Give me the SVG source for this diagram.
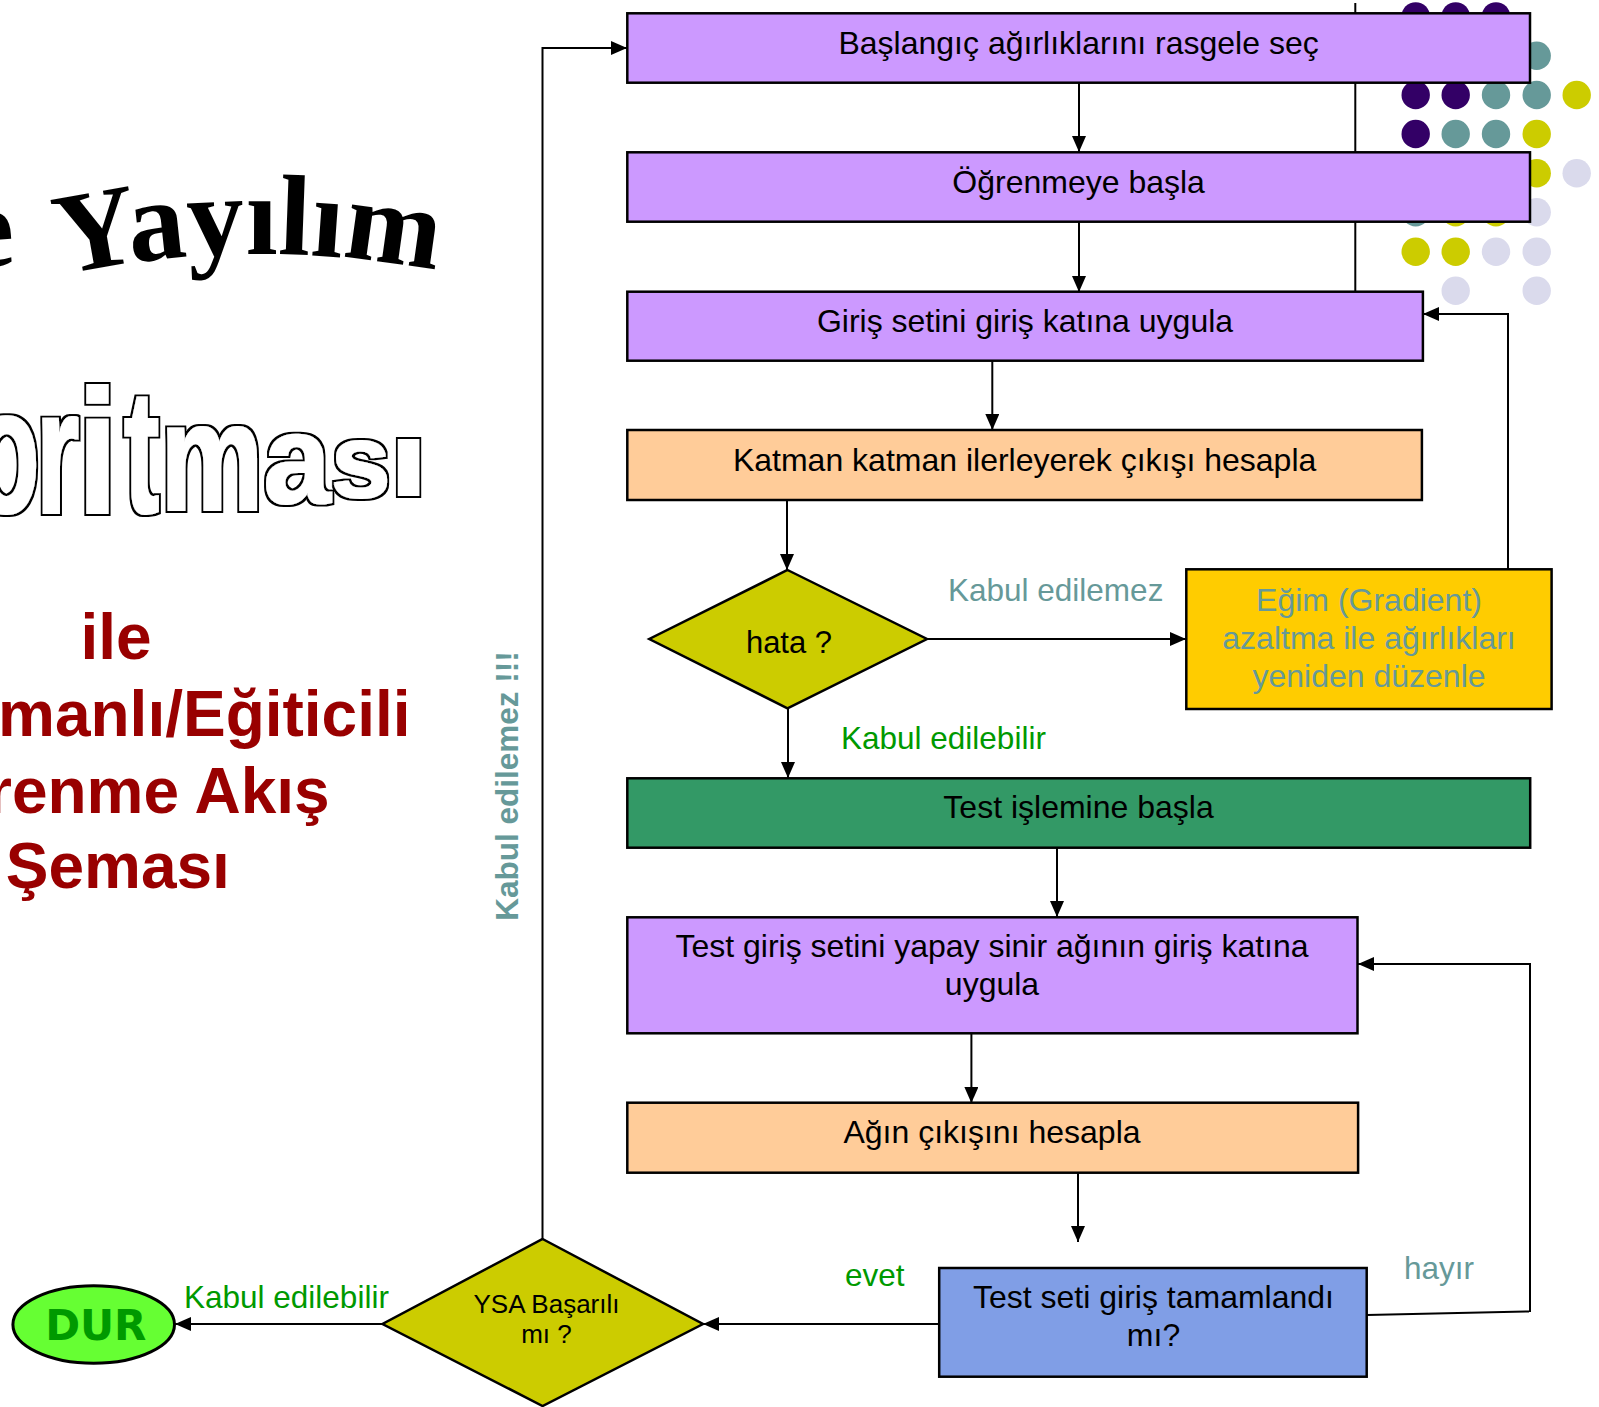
<svg xmlns="http://www.w3.org/2000/svg" width="1599" height="1407" viewBox="0 0 1599 1407">
  <defs>
    <style>
      .box{stroke:#000;stroke-width:2.5}
      .purple{fill:#CC99FF}
      .peach{fill:#FFCC99}
      .gold{fill:#FFCC00}
      .green{fill:#339966}
      .blue{fill:#809EE6}
      .olive{fill:#CCCC00}
      .t{font-family:"Liberation Sans",Arial,sans-serif;font-size:32px;fill:#000;text-anchor:middle}
      .lbl{font-family:"Liberation Sans",Arial,sans-serif;font-size:31.5px}
      .okc{fill:#009900}
      .tealc{fill:#669999}
      .conn{fill:none;stroke:#000;stroke-width:2}
      .arr{marker-end:url(#ah)}
      .red{font-family:"Liberation Sans",Arial,sans-serif;font-weight:bold;font-size:64px;fill:#990000}
      .ol{font-family:"Liberation Sans",Arial,sans-serif;font-weight:bold;fill:#000}
      .serif{font-family:"Liberation Serif","Times New Roman",serif;font-weight:bold;font-size:115px;fill:#000}
      .d1{fill:#330066}.d2{fill:#669999}.d3{fill:#CCCC00}.d4{fill:#DADAEC}
    </style>
    <marker id="ah" markerUnits="userSpaceOnUse" markerWidth="16" markerHeight="14" refX="16" refY="7" orient="auto">
      <path d="M0,0 L16,7 L0,14 z" fill="#000"/>
    </marker>
    <path id="arc" d="M -100 326.2 A 933 933 0 0 1 620 326.2" fill="none"/>
    <!-- hollow lettering: white body with a thin black rim, slightly fattened -->
    <filter id="hollow" x="-5%" y="-10%" width="110%" height="120%">
      <feMorphology in="SourceAlpha" operator="dilate" radius="1.4" result="inner"/>
      <feMorphology in="SourceAlpha" operator="dilate" radius="2.8" result="outer"/>
      <feFlood flood-color="#000" result="blk"/>
      <feComposite in="blk" in2="outer" operator="in" result="rim"/>
      <feFlood flood-color="#fff" result="wht"/>
      <feComposite in="wht" in2="inner" operator="in" result="body"/>
      <feMerge><feMergeNode in="rim"/><feMergeNode in="body"/></feMerge>
    </filter>
  </defs>

  <rect width="1599" height="1407" fill="#fff"/>

  <!-- title (left side, partly cut by the page edge) -->
  <g id="title">
    <text class="serif" transform="translate(-35,268) rotate(-4)">e</text>
    <text class="serif"><textPath href="#arc" startOffset="170">Yayılım</textPath></text>
    <g id="title-outline" filter="url(#hollow)">
      <text class="ol" font-size="179" transform="translate(-26.2,512) scale(0.6,1)">o</text>
      <text class="ol" font-size="179" transform="translate(36,513) scale(0.62,1)">r</text>
      <text class="ol" font-size="176" transform="translate(77,513) scale(0.84,1)">i</text>
      <text class="ol" font-size="176" transform="translate(124,512) scale(0.6,1)">t</text>
      <text class="ol" font-size="154" transform="translate(160.5,510) scale(0.75,1)">m</text>
      <text class="ol" font-size="127" transform="translate(263.5,503) scale(0.95,1)">a</text>
      <text class="ol" font-size="104" transform="translate(331,497) scale(1.03,1)">s</text>
      <text class="ol" font-size="104" transform="translate(389,495) scale(1.35,1)">ı</text>
    </g>
    <text class="red" x="80.5" y="659">ile</text>
    <text class="red" x="-2" y="736">manlı/Eğiticili</text>
    <text class="red" x="-13" y="813">renme Akış</text>
    <text class="red" x="5.7" y="888">Şeması</text>
  </g>

  <!-- dotted ornament, top right -->
  <g id="dots">
    <circle class="d1" cx="1415.7" cy="16.4" r="14.2"/>
    <circle class="d1" cx="1455.7" cy="16.4" r="14.2"/>
    <circle class="d1" cx="1496" cy="16.4" r="14.2"/>
    <circle class="d2" cx="1536.7" cy="55.7" r="14.2"/>
    <circle class="d1" cx="1415.7" cy="95" r="14.2"/>
    <circle class="d1" cx="1455.7" cy="95" r="14.2"/>
    <circle class="d2" cx="1496" cy="95" r="14.2"/>
    <circle class="d2" cx="1536.7" cy="95" r="14.2"/>
    <circle class="d3" cx="1576.7" cy="95" r="14.2"/>
    <circle class="d1" cx="1415.7" cy="134" r="14.2"/>
    <circle class="d2" cx="1455.7" cy="134" r="14.2"/>
    <circle class="d2" cx="1496" cy="134" r="14.2"/>
    <circle class="d3" cx="1536.7" cy="134" r="14.2"/>
    <circle class="d3" cx="1536.7" cy="173.3" r="14.2"/>
    <circle class="d4" cx="1576.7" cy="173.3" r="14.2"/>
    <circle class="d2" cx="1415.7" cy="212.3" r="14.2"/>
    <circle class="d3" cx="1455.7" cy="212.3" r="14.2"/>
    <circle class="d3" cx="1496" cy="212.3" r="14.2"/>
    <circle class="d4" cx="1536.7" cy="212.3" r="14.2"/>
    <circle class="d3" cx="1415.7" cy="251.7" r="14.2"/>
    <circle class="d3" cx="1455.7" cy="251.7" r="14.2"/>
    <circle class="d4" cx="1496" cy="251.7" r="14.2"/>
    <circle class="d4" cx="1536.7" cy="251.7" r="14.2"/>
    <circle class="d4" cx="1455.7" cy="290.7" r="14.2"/>
    <circle class="d4" cx="1536.7" cy="290.7" r="14.2"/>
    <line x1="1355.3" y1="3" x2="1355.3" y2="292" stroke="#000" stroke-width="2"/>
  </g>

  <!-- connectors -->
  <g id="connectors">
    <path class="conn arr" d="M1079,83 V152"/>
    <path class="conn arr" d="M1079,222 V292"/>
    <path class="conn arr" d="M992.3,361 V430"/>
    <path class="conn arr" d="M787,500 V570"/>
    <path class="conn arr" d="M927,639 H1186"/>
    <path class="conn arr" d="M1508,569 V314 H1423"/>
    <path class="conn arr" d="M788,708 V778"/>
    <path class="conn arr" d="M1057,848 V917"/>
    <path class="conn arr" d="M971.4,1033 V1103"/>
    <path class="conn arr" d="M1078,1173 V1242"/>
    <path class="conn arr" d="M1367,1315 L1529,1311.5 M1530,1312 V964 H1358"/>
    <path class="conn arr" d="M939,1324 H703"/>
    <path class="conn arr" d="M382.5,1324 H175"/>
    <path class="conn arr" d="M542.5,1239 V48 H627"/>
    <text class="lbl tealc" x="948" y="601">Kabul edilemez</text>
    <text class="lbl okc" x="841" y="749">Kabul edilebilir</text>
    <text class="lbl okc" x="184" y="1308">Kabul edilebilir</text>
    <text class="lbl okc" x="845" y="1286">evet</text>
    <text class="lbl tealc" x="1404" y="1279">hayır</text>
    <text class="lbl tealc" font-weight="bold" text-anchor="middle" transform="translate(517.5,786) rotate(-90)">Kabul edilemez !!!</text>
  </g>

  <!-- nodes -->
  <g id="n-start">
    <rect class="box purple" x="627.3" y="13.3" width="902.7" height="69.4"/>
    <text class="t" x="1078.6" y="53.5">Başlangıç ağırlıklarını rasgele seç</text>
  </g>
  <g id="n-learn">
    <rect class="box purple" x="627.3" y="152.3" width="902.7" height="69.4"/>
    <text class="t" x="1078.6" y="192.7">Öğrenmeye başla</text>
  </g>
  <g id="n-apply">
    <rect class="box purple" x="627.3" y="291.7" width="795.6" height="69"/>
    <text class="t" x="1025" y="331.7">Giriş setini giriş katına uygula</text>
  </g>
  <g id="n-forward">
    <rect class="box peach" x="627.3" y="430" width="794.6" height="70"/>
    <text class="t" x="1024.6" y="470.7">Katman katman ilerleyerek çıkışı hesapla</text>
  </g>
  <g id="n-error">
    <polygon class="box olive" points="787.5,570 927,639 787.5,708.3 649.3,639" stroke-width="2"/>
    <text class="t" x="789" y="653" style="font-size:31px">hata ?</text>
  </g>
  <g id="n-gradient">
    <rect class="box gold" x="1186.3" y="569.3" width="365.3" height="139.7"/>
    <text class="t" x="1369" y="611" style="fill:#669999">Eğim (Gradient)</text>
    <text class="t" x="1369" y="649" style="fill:#669999">azaltma ile ağırlıkları</text>
    <text class="t" x="1369" y="687" style="fill:#669999">yeniden düzenle</text>
  </g>
  <g id="n-test">
    <rect class="box green" x="627.3" y="778.3" width="902.9" height="69.4"/>
    <text class="t" x="1078.5" y="818.3">Test işlemine başla</text>
  </g>
  <g id="n-testinput">
    <rect class="box purple" x="627.3" y="917.3" width="730.2" height="116"/>
    <text class="t" x="992" y="956.7">Test giriş setini yapay sinir ağının giriş katına</text>
    <text class="t" x="992" y="995">uygula</text>
  </g>
  <g id="n-output">
    <rect class="box peach" x="627.3" y="1102.7" width="730.8" height="70"/>
    <text class="t" x="992" y="1143.3">Ağın çıkışını hesapla</text>
  </g>
  <g id="n-done">
    <rect class="box blue" x="939.2" y="1268" width="427.5" height="108.7"/>
    <text class="t" x="1153.5" y="1308.3">Test seti giriş tamamlandı</text>
    <text class="t" x="1153.5" y="1346">mı?</text>
  </g>
  <g id="n-success">
    <polygon class="box olive" points="542.6,1239 703,1324 542.6,1406 382.5,1324" stroke-width="2"/>
    <text class="t" x="546.5" y="1313.3" style="font-size:26px">YSA Başarılı</text>
    <text class="t" x="546.5" y="1343.3" style="font-size:26px">mı ?</text>
  </g>
  <g id="n-stop">
    <ellipse cx="93.7" cy="1324.5" rx="80.8" ry="38.8" fill="#66FF33" stroke="#000" stroke-width="3"/>
    <text x="95.8" y="1340" text-anchor="middle" font-family="'DejaVu Sans',Verdana,sans-serif" font-weight="bold" font-size="42" fill="#009900">DUR</text>
  </g>
</svg>
